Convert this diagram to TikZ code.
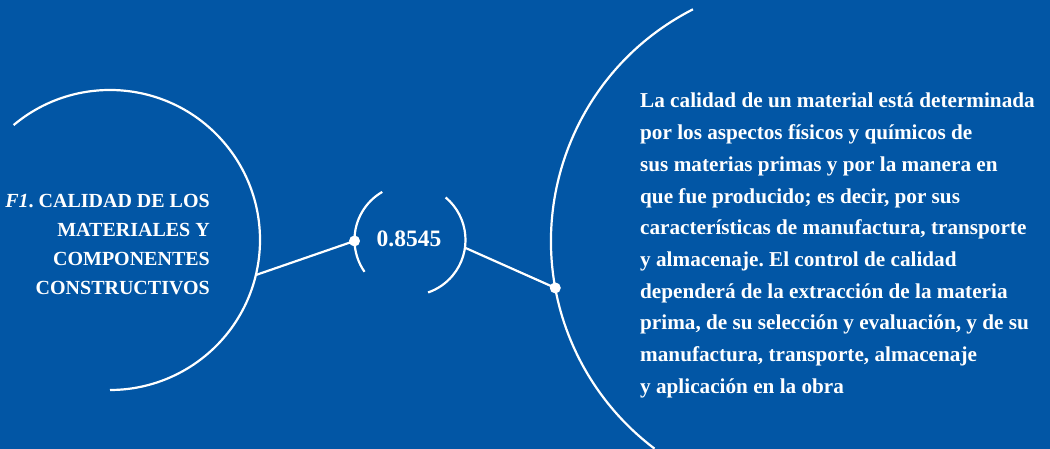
\documentclass[tikz,border=0pt]{standalone}
\usepackage{fontspec}
\setmainfont{Liberation Serif}
\frenchspacing
\definecolor{bgblue}{RGB}{2,86,165}
\tikzset{
  wline/.style={draw=white, line width=2.2pt},
  dot/.style={circle, fill=white, inner sep=0pt, minimum size=11pt},
  txt/.style={text=white, inner sep=0pt}
}
\begin{document}
\begin{tikzpicture}[x=1pt,y=1pt]
\fill[bgblue] (0,0) rectangle (1050,449);
\useasboundingbox (0,0) rectangle (1050,449);
% centres
\coordinate (cl) at (110,209);
\coordinate (cm) at (410,209);
\coordinate (cr) at (811,208);
% arcs
\draw[wline] (cl) ++(130:150) arc[start angle=130, end angle=-90, radius=150];
\draw[wline] (cm) ++(120:55.5) arc[start angle=120, end angle=215, radius=55.5];
\draw[wline] (cm) ++(50:55.5) arc[start angle=50, end angle=-71, radius=55.5];
\draw[wline] (cr) ++(117:260) arc[start angle=117, end angle=233, radius=260];
% anchor points
\path (cl) ++(-13.5:150) coordinate (la);
\path (cm) ++(-8:55.5) coordinate (ma);
\path (cm) ++(181:55.5) node[dot] (d1) {};
\path (cr) ++(190.4:260) node[dot] (d2) {};
\draw[wline] (la) -- (d1.center);
\draw[wline] (ma) -- (d2.center);
% texts
\node[txt, font=\bfseries\fontsize{20}{29}\selectfont, align=right, anchor=north east] (lt) at (210,255)
  {\textit{F1}. CALIDAD DE LOS\\ MATERIALES Y\\ COMPONENTES\\ CONSTRUCTIVOS};
\node[txt, font=\bfseries\fontsize{23.5}{26}\selectfont] (num) at (409,210) {0.8545};
\node[txt, font=\bfseries\fontsize{21.2}{31.7}\selectfont, align=left, anchor=north west] (rt) at (640,356)
  {La calidad de un material está determinada\\
   por los aspectos físicos y químicos de\\
   sus materias primas y por la manera en\\
   que fue producido; es decir, por sus\\
   características de manufactura, transporte\\
   y almacenaje. El control de calidad\\
   dependerá de la extracción de la materia\\
   prima, de su selección y evaluación, y de su\\
   manufactura, transporte, almacenaje\\
   y aplicación en la obra};
\end{tikzpicture}
\end{document}
